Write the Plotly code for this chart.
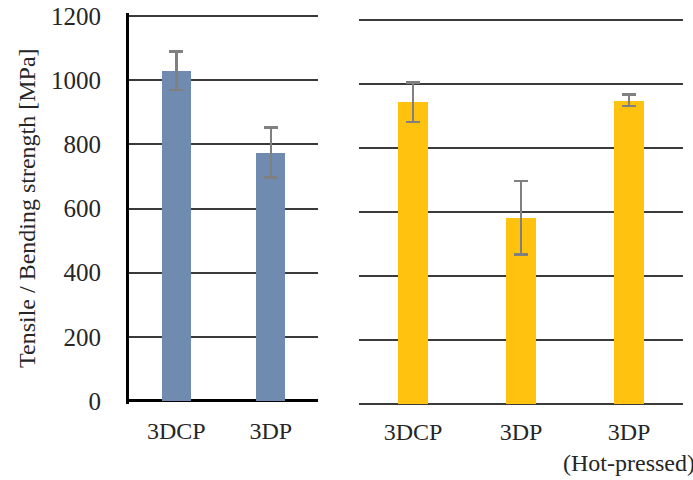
import plotly.graph_objects as go

left_categories = ["3DCP", "3DP"]
left_values = [1030, 775]
left_errors = [60, 78]

right_categories = ["3DCP", "3DP", "3DP<br>(Hot-pressed)"]
right_values = [943, 582, 949]
right_errors = [62, 115, 18]

y_ticks = [0, 200, 400, 600, 800, 1000, 1200]
y_title = "Tensile / Bending strength [MPa]"

W, H = 693, 480
FONT = "Liberation Serif"
TXT = "#262626"
GRID = "#3a3a3a"
ERR = dict(type="data", color="#808080", thickness=2.5, width=7)

fig = go.Figure()
fig.add_trace(go.Bar(
    x=left_categories, y=left_values,
    error_y=dict(array=left_errors, **ERR),
    marker=dict(color="#6F8BB0", line=dict(width=0)),
    width=0.31, xaxis="x", yaxis="y", showlegend=False))
fig.add_trace(go.Bar(
    x=right_categories, y=right_values,
    error_y=dict(array=right_errors, **ERR),
    marker=dict(color="#FFC20E", line=dict(width=0)),
    width=0.27, xaxis="x2", yaxis="y2", showlegend=False))

axis_font = dict(family=FONT, size=24, color=TXT)
yr = [-10, 1210]

fig.update_layout(
    template="none",
    width=W, height=H,
    margin=dict(l=0, r=0, t=0, b=0),
    paper_bgcolor="white", plot_bgcolor="white",
    font=dict(family=FONT, size=24, color=TXT),
    bargap=0,
    xaxis=dict(domain=[129 / W, 318 / W], anchor="y",
               showline=False, showgrid=False, ticks="", tickfont=axis_font,
               ticklabelstandoff=10, automargin=False),
    yaxis=dict(domain=[75.8 / H, 467.2 / H], anchor="x",
               range=yr, tickvals=y_ticks,
               showline=True, linecolor="#000000", linewidth=3,
               showgrid=True, gridcolor=GRID, gridwidth=2,
               zeroline=True, zerolinecolor="#000000", zerolinewidth=3,
               ticks="", tickfont=dict(family=FONT, size=25, color=TXT),
               ticklabelstandoff=20, automargin=False),
    xaxis2=dict(domain=[359 / W, 683 / W], anchor="y2",
                showline=False, showgrid=False, ticks="",
                tickfont=axis_font, ticklabelstandoff=8, automargin=False),
    yaxis2=dict(domain=[72.8 / H, 463.2 / H], anchor="x2",
                range=yr, tickvals=y_ticks,
                showticklabels=False, showline=False,
                showgrid=True, gridcolor=GRID, gridwidth=2,
                zeroline=True, zerolinecolor=GRID, zerolinewidth=2,
                ticks="", automargin=False),
    annotations=[dict(
        text=y_title, textangle=-90,
        x=27 / W, y=(H - 208) / H, xref="paper", yref="paper",
        xanchor="center", yanchor="middle", showarrow=False,
        font=dict(family=FONT, size=24, color=TXT))],
)

fig.write_html("out.html", config={"displayModeBar": False},
               post_script="document.body.style.margin='0';")
